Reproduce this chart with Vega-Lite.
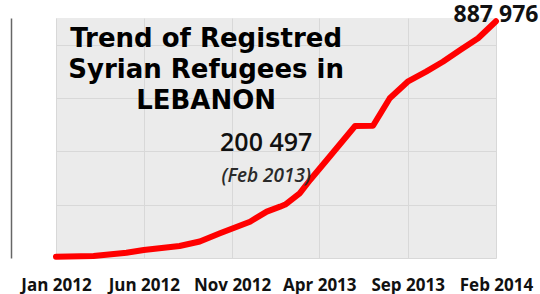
{
  "$schema": "https://vega.github.io/schema/vega-lite/v6.json",
  "width": 440,
  "height": 240,
  "autosize": {"type": "none"},
  "padding": {"left": 56, "top": 18, "right": 44, "bottom": 36},
  "background": "white",
  "config": {"view": {"fill": "#ebebeb", "stroke": null}},
  "data": {
    "values": [
      {"date": "2012-01-01", "refugees": 5000},
      {"date": "2012-03-06", "refugees": 7500},
      {"date": "2012-05-02", "refugees": 20000},
      {"date": "2012-06-01", "refugees": 30000},
      {"date": "2012-08-02", "refugees": 45000},
      {"date": "2012-09-06", "refugees": 62000},
      {"date": "2012-09-23", "refugees": 77000},
      {"date": "2012-10-11", "refugees": 92500},
      {"date": "2012-12-02", "refugees": 136000},
      {"date": "2012-12-31", "refugees": 174000},
      {"date": "2013-01-23", "refugees": 192500},
      {"date": "2013-02-01", "refugees": 200497},
      {"date": "2013-02-26", "refugees": 242500},
      {"date": "2013-03-16", "refugees": 292500},
      {"date": "2013-04-14", "refugees": 367500},
      {"date": "2013-06-02", "refugees": 495000},
      {"date": "2013-07-03", "refugees": 496000},
      {"date": "2013-08-01", "refugees": 599000},
      {"date": "2013-09-01", "refugees": 661000},
      {"date": "2013-10-03", "refugees": 699000},
      {"date": "2013-11-01", "refugees": 736000},
      {"date": "2013-12-01", "refugees": 780000},
      {"date": "2014-01-01", "refugees": 824000},
      {"date": "2014-02-01", "refugees": 887976}
    ]
  },
  "layer": [
    {
      "mark": {"type": "line", "color": "#ff0000", "strokeWidth": 6, "strokeCap": "round", "strokeJoin": "round"},
      "encoding": {
        "x": {
          "field": "date",
          "type": "temporal",
          "scale": {
            "type": "utc",
            "domain": [
              {"year": 2012, "month": 1, "date": 1, "utc": true},
              {"year": 2014, "month": 2, "date": 1, "utc": true}
            ]
          },
          "axis": {
            "title": null,
            "values": [
              {"year": 2012, "month": 1, "date": 1, "utc": true},
              {"year": 2012, "month": 6, "date": 1, "utc": true},
              {"year": 2012, "month": 11, "date": 1, "utc": true},
              {"year": 2013, "month": 4, "date": 1, "utc": true},
              {"year": 2013, "month": 9, "date": 1, "utc": true},
              {"year": 2014, "month": 2, "date": 1, "utc": true}
            ],
            "labelExpr": "utcFormat(datum.value, '%b %Y')",
            "domain": false,
            "ticks": false,
            "tickSize": 0,
            "labelPadding": 32,
            "labelBaseline": "alphabetic",
            "labelAlign": "center",
            "labelFlush": false,
            "labelOverlap": false,
            "labelBound": false,
            "labelFont": "Open Sans",
            "labelFontWeight": "bold",
            "labelFontSize": 17,
            "labelColor": "#111111",
            "grid": true,
            "gridColor": "#d8d8d8",
            "gridWidth": 1
          }
        },
        "y": {
          "field": "refugees",
          "type": "quantitative",
          "scale": {"domain": [0, 900000], "nice": false, "zero": true},
          "axis": {
            "title": null,
            "values": [0, 100000, 200000, 300000, 400000, 500000, 600000, 700000, 800000, 900000],
            "labels": false,
            "ticks": false,
            "domain": true,
            "offset": 45,
            "domainColor": "#666666",
            "domainWidth": 1.5,
            "grid": true,
            "gridColor": "#d8d8d8",
            "gridWidth": 1
          }
        }
      }
    },
    {
      "data": {"values": [{}]},
      "mark": {
        "type": "text",
        "text": ["Trend of Registred", "Syrian Refugees in", "LEBANON"],
        "font": "DejaVu Sans",
        "fontWeight": "bold",
        "fontSize": 26,
        "lineHeight": 31,
        "align": "center",
        "baseline": "alphabetic",
        "color": "#000000"
      },
      "encoding": {
        "x": {"datum": {"year": 2012, "month": 9, "date": 17, "utc": true}, "type": "temporal"},
        "y": {"datum": 791250, "type": "quantitative"}
      }
    },
    {
      "data": {"values": [{}]},
      "mark": {
        "type": "text",
        "text": "200 497",
        "font": "Open Sans",
        "fontWeight": 600,
        "fontSize": 25,
        "align": "center",
        "baseline": "alphabetic",
        "color": "#111111"
      },
      "encoding": {
        "x": {"datum": {"year": 2012, "month": 12, "date": 30, "utc": true}, "type": "temporal"},
        "y": {"datum": 402375, "type": "quantitative"}
      }
    },
    {
      "data": {"values": [{}]},
      "mark": {
        "type": "text",
        "text": "(Feb 2013)",
        "font": "Open Sans",
        "fontStyle": "italic",
        "fontWeight": 600,
        "fontSize": 19,
        "align": "center",
        "baseline": "alphabetic",
        "color": "#2a2a2a"
      },
      "encoding": {
        "x": {"datum": {"year": 2012, "month": 12, "date": 30, "utc": true}, "type": "temporal"},
        "y": {"datum": 286125, "type": "quantitative"}
      }
    },
    {
      "data": {"values": [{}]},
      "mark": {
        "type": "text",
        "text": "887 976",
        "font": "Open Sans",
        "fontWeight": "bold",
        "fontSize": 23,
        "align": "center",
        "baseline": "alphabetic",
        "color": "#111111"
      },
      "encoding": {
        "x": {"datum": {"year": 2014, "month": 2, "date": 1, "utc": true}, "type": "temporal"},
        "y": {"datum": 886000, "type": "quantitative"}
      }
    }
  ]
}
